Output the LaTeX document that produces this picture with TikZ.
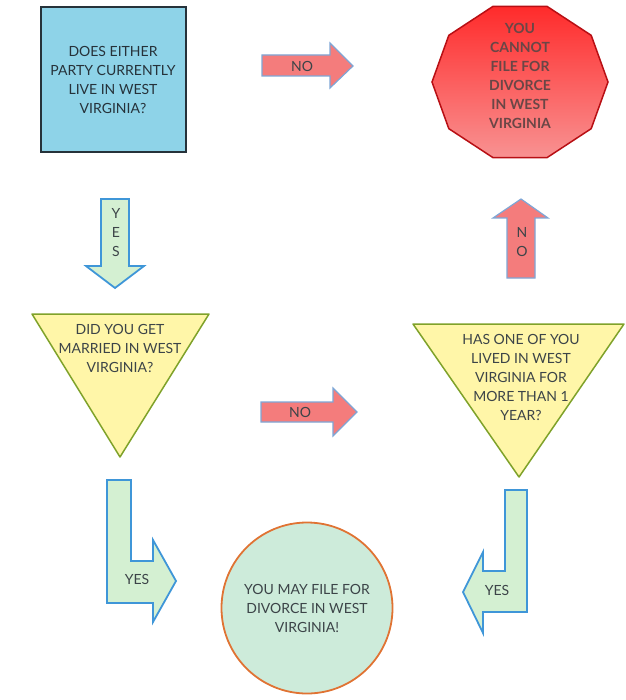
\documentclass[tikz,border=0pt]{standalone}
\usepackage{fontspec}
\setmainfont{Lato}
\usepackage{xcolor}
\definecolor{boxblue}{HTML}{8ED3E8}
\definecolor{boxline}{HTML}{26323A}
\definecolor{nored}{HTML}{F47C7C}
\definecolor{noblue}{HTML}{7EA6D6}
\definecolor{yesgreen}{HTML}{D4F0D2}
\definecolor{yesblue}{HTML}{3F96D8}
\definecolor{qyellow}{HTML}{FFF6A8}
\definecolor{qgreen}{HTML}{7FA22A}
\definecolor{endgreen}{HTML}{CDEBDA}
\definecolor{endorange}{HTML}{E07333}
\definecolor{stoptop}{HTML}{FF2B2B}
\definecolor{stopbottom}{HTML}{F89292}
\definecolor{stopline}{HTML}{B80F14}
\definecolor{darktext}{HTML}{3C4448}
\definecolor{stoptext}{HTML}{6A4646}

\begin{document}
\begin{tikzpicture}[x=1pt,y=-1pt,
        txt/.style={font=\fontsize{14}{19}\selectfont,align=center,inner sep=0pt,text=darktext},
        yesarrow/.style={fill=yesgreen,draw=yesblue,line width=1.8pt},
        noarrow/.style={fill=nored,draw=noblue,line width=1.2pt},
        question/.style={fill=qyellow,draw=qgreen,line width=1.5pt,line join=round}]
    \useasboundingbox (0,0) rectangle (625,700);

    % first question
    \node[txt,draw=boxline,fill=boxblue,line width=2pt,minimum width=145,minimum height=145,text=boxline] (live) at (113,80) {DOES EITHER\\PARTY CURRENTLY\\LIVE IN WEST\\VIRGINIA?};

    \draw[noarrow] (262,55) -- (330,55) -- (330,43) -- (353,66) -- (330,88) -- (330,76) -- (262,76) -- cycle;
    \node[txt] (noone) at (302,66) {NO};

    \draw[yesarrow] (101,199) -- (129,199) -- (129,266) -- (144,266) -- (115,288) -- (86,266) -- (101,266) -- cycle;
    \node[txt] (yesone) at (116,233) {Y\\E\\S};

    % stop sign
    \draw[top color=stoptop,bottom color=stopbottom,draw=stopline,line width=1.5pt]
        plot[samples at={0,36,...,324}] ({520+88*cos(\x)},{82-79.4*sin(\x)}) -- cycle;
    \node[txt,font=\fontsize{14}{19}\selectfont\bfseries,text=stoptext] (stop) at (520,75.5) {YOU\\CANNOT\\FILE FOR\\DIVORCE\\IN WEST\\VIRGINIA};

    % second question
    \draw[question] (32,314) -- (209,314) -- (120,457) -- cycle;
    \node[txt] (married) at (120,348) {DID YOU GET\\MARRIED IN WEST\\VIRGINIA?};

    \draw[noarrow] (261,402) -- (333,402) -- (333,388) -- (357,412) -- (333,436) -- (333,422) -- (261,422) -- cycle;
    \node[txt] (notwo) at (300,412) {NO};

    % third question
    \draw[question] (413,324) -- (624,324) -- (519,477) -- cycle;
    \node[txt] (lived) at (521,377) {HAS ONE OF YOU\\LIVED IN WEST\\VIRGINIA FOR\\MORE THAN 1\\YEAR?};

    \draw[noarrow] (507,278) -- (507,218) -- (493,218) -- (521,199) -- (548,218) -- (535,218) -- (535,278) -- cycle;
    \node[txt] (nothree) at (522,242.5) {N\\O};

    % yes to filing
    \draw[yesarrow] (107,480) -- (131,480) -- (131,561) -- (153,561) -- (153,540) -- (176,581) -- (153,622) -- (153,603) -- (107,603) -- cycle;
    \node[txt] (yestwo) at (137,579) {YES};

    \draw[yesarrow] (527,490) -- (505,490) -- (505,571) -- (483,571) -- (483,552) -- (463,592) -- (483,633) -- (483,612) -- (527,612) -- cycle;
    \node[txt] (yesthree) at (497,590) {YES};

    \node[txt,circle,draw=endorange,fill=endgreen,line width=1.8pt,minimum size=171] (file) at (307,608) {YOU MAY FILE FOR\\DIVORCE IN WEST\\VIRGINIA!};
\end{tikzpicture}
\end{document}
